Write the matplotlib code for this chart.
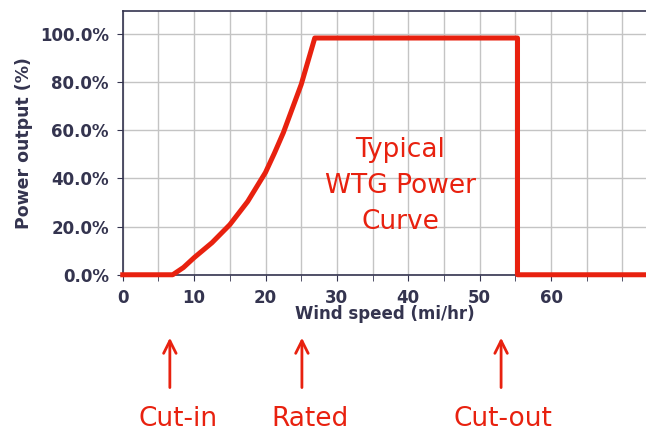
import matplotlib.pyplot as plt
from matplotlib.ticker import MultipleLocator, FuncFormatter

# power curve (wind speed mi/hr, output %)
wind_speed = [0, 7, 8.5, 10, 12.5, 15, 17.5, 20, 21.25, 22.5, 23.75, 25, 26.9, 55.3, 55.3, 73.3]
power_pct = [0, 0, 3, 7.1, 13.3, 20.8, 30.4, 42.5, 50.5, 59, 69, 79, 98.3, 98.3, 0, 0]

x_ticks = [0, 10, 20, 30, 40, 50, 60]
y_ticks = [0, 20, 40, 60, 80, 100]

# labels under the axis: (text, arrow x, label x)
markers = [("Cut-in", 6.6, 7.7), ("Rated", 25.1, 26.3), ("Cut-out", 53.0, 53.2)]

red = '#e8210f'
navy = '#34344f'

fig = plt.figure(figsize=(6.46, 4.32), dpi=100)
ax = fig.add_axes([0.19, 0.364, 0.81, 0.611])

ax.plot(wind_speed, power_pct, color=red, lw=3.6, solid_joinstyle='round',
        clip_on=False, zorder=3)

ax.set_xlim(0, 73.3)
ax.set_ylim(0, 109.6)
ax.set_xticks(x_ticks)
ax.xaxis.set_minor_locator(MultipleLocator(5))
ax.set_yticks(y_ticks)
ax.yaxis.set_major_formatter(FuncFormatter(lambda v, p: f'{v:.1f}%'))

ax.grid(True, which='both', axis='x', color='#c4c4c4', lw=1)
ax.grid(True, which='major', axis='y', color='#c4c4c4', lw=1)
ax.set_axisbelow(True)

for side in ['left', 'top', 'bottom']:
    ax.spines[side].set_color(navy)
    ax.spines[side].set_linewidth(1.2)
ax.spines['right'].set_visible(False)

ax.tick_params(axis='both', which='both', colors=navy, length=4)
ax.tick_params(axis='both', which='major', labelsize=12, pad=6)
for lab in ax.get_xticklabels() + ax.get_yticklabels():
    lab.set_fontweight('bold')

ax.set_xlabel('Wind speed (mi/hr)', fontsize=12, fontweight='bold', color=navy, labelpad=-1)
ax.set_ylabel('Power output (%)', fontsize=12.5, fontweight='bold', color=navy, labelpad=5)

ax.text(38.9, 37, 'Typical\nWTG Power\nCurve', color=red, fontsize=19,
        ha='center', va='center', linespacing=1.5)

for label, ax_x, lab_x in markers:
    ax.annotate('', xy=(ax_x, -25), xytext=(ax_x, -48), annotation_clip=False,
                arrowprops=dict(arrowstyle='->,head_length=0.9,head_width=0.45',
                                color=red, lw=2))
    ax.text(lab_x, -60, label, color=red, fontsize=19, ha='center', va='center',
            clip_on=False)

fig.savefig('out.png', dpi=100)
